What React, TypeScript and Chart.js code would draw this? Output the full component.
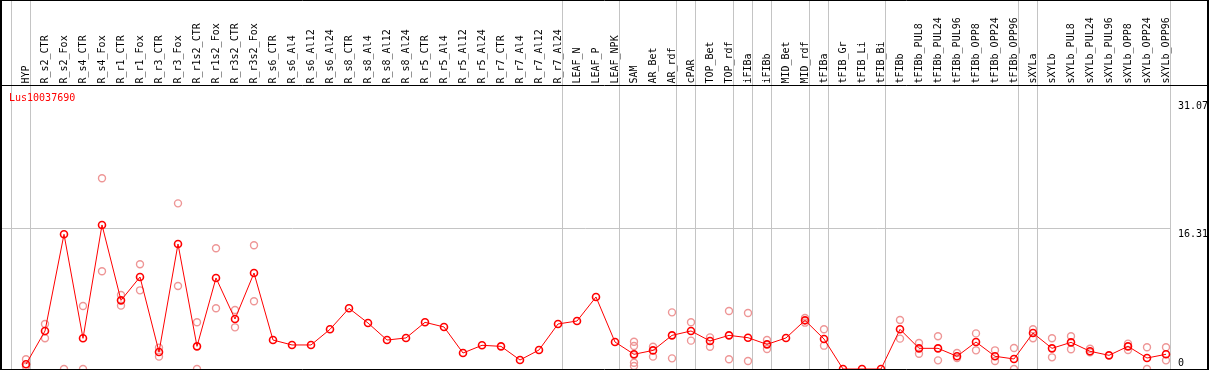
import React, { useEffect, useRef } from "react";
import { Chart, registerables } from "chart.js";

Chart.register(...registerables);

const geneLabel = "Lus10037690";

const categories = [
  "HYP", "R_s2_CTR", "R_s2_Fox", "R_s4_CTR", "R_s4_Fox", "R_r1_CTR", "R_r1_Fox",
  "R_r3_CTR", "R_r3_Fox", "R_r1s2_CTR", "R_r1s2_Fox", "R_r3s2_CTR", "R_r3s2_Fox",
  "R_s6_CTR", "R_s6_Al4", "R_s6_Al12", "R_s6_Al24", "R_s8_CTR", "R_s8_Al4",
  "R_s8_Al12", "R_s8_Al24", "R_r5_CTR", "R_r5_Al4", "R_r5_Al12", "R_r5_Al24",
  "R_r7_CTR", "R_r7_Al4", "R_r7_Al12", "R_r7_Al24", "LEAF_N", "LEAF_P", "LEAF_NPK",
  "SAM", "AR_Bet", "AR_rdf", "cPAR", "TOP_Bet", "TOP_rdf", "iFIBa", "iFIBb",
  "MID_Bet", "MID_rdf", "tFIBa", "tFIB_Gr", "tFIB_Li", "tFIB_Bi", "tFIBb",
  "tFIBb_PUL8", "tFIBb_PUL24", "tFIBb_PUL96", "tFIBb_OPP8", "tFIBb_OPP24", "tFIBb_OPP96",
  "sXYLa", "sXYLb", "sXYLb_PUL8", "sXYLb_PUL24", "sXYLb_PUL96", "sXYLb_OPP8",
  "sXYLb_OPP24", "sXYLb_OPP96",
];

const meanValues = [
  0.55, 4.4, 15.58, 3.55, 16.66, 7.94, 10.64, 1.97, 14.46, 2.62, 10.53, 5.78, 11.1,
  3.35, 2.78, 2.78, 4.59, 7.02, 5.32, 3.35, 3.59, 5.4, 4.86, 1.85, 2.74,
  2.62, 1.04, 2.2, 5.21, 5.55, 8.33, 3.12,
  1.7, 2.15, 3.89, 4.4, 3.24, 3.89, 3.62, 2.85, 3.59, 5.63, 3.47, 0, 0, 0, 4.59,
  2.39, 2.39, 1.47, 3.12, 1.47, 1.16,
  4.16, 2.39, 3.08, 2.05, 1.58, 2.62, 1.27, 1.7,
];

const replicateHigh = [
  1.12, 5.2, null, 7.29, 22.06, 8.56, 12.11, 2.47, 19.16, 5.4, 13.96, 6.82, 14.31,
  null, null, null, null, null, null, null, null, null, null, null, null,
  null, null, null, null, null, null, null,
  3.16, 2.58, 6.55, 5.4, 3.66, 6.71, 6.48, 3.35, null, 5.9, 4.59, null, null, null, 5.67,
  3.01, 3.78, 1.85, 4.12, 2.16, 2.43,
  4.59, 3.55, 3.78, 2.35, null, 2.93, 2.51, 2.51,
];

const replicateLow = [
  0.3, 3.55, 0, 0, 11.3, 7.33, 9.1, 1.43, 9.6, 0, 7.02, 4.82, 7.83,
  null, null, null, null, null, null, null, null, null, null, null, null,
  null, null, null, null, null, null, null,
  2.66, 1.43, 1.23, 3.28, 2.58, 1.12, 0.93, 2.31, null, 5.36, 2.7, null, null, null, 3.51,
  1.77, 1.0, 1.27, 2.16, 0.93, 0,
  3.55, 1.35, 2.28, 1.93, null, 2.2, 0, 1.0,
];

const extraIndex = [32, 32, 32];
const extraValues = [1.62, 0.73, 0.35];

const groupBoundaries = [0, 1, 29, 32, 35, 36, 38, 39, 40, 42, 43, 46, 53, 54, 61];
const yTickLabels = ["0", "16.31", "31.07"];
const yTickValues = [0, 16.31, 31.07];
const yGridValues = [16.31];

const Y_MAX = 32.85;
const W = 1209;
const H = 370;
const MONO = '10px "DejaVu Sans Mono", monospace';

const decorPlugin = {
  id: "decor",
  beforeDraw(chart: any) {
    const { ctx } = chart;
    ctx.save();
    ctx.fillStyle = "#ffffff";
    ctx.fillRect(0, 0, W, H);
    ctx.restore();
  },
  beforeDatasetsDraw(chart: any) {
    const { ctx } = chart;
    const x = chart.scales.x;
    const y = chart.scales.y;
    ctx.save();
    ctx.strokeStyle = "#c4c4c4";
    ctx.lineWidth = 1;
    let lastX = 0;
    groupBoundaries.forEach((k) => {
      const px = Math.round(x.getPixelForValue(k - 0.77)) + 0.5;
      lastX = px;
      ctx.beginPath();
      ctx.moveTo(px, 0);
      ctx.lineTo(px, 369);
      ctx.stroke();
    });
    yGridValues.forEach((v) => {
      const py = Math.round(y.getPixelForValue(v)) + 0.5;
      ctx.beginPath();
      ctx.moveTo(0, py);
      ctx.lineTo(lastX, py);
      ctx.stroke();
    });

    // frame
    ctx.strokeStyle = "#000000";
    ctx.lineWidth = 1;
    ctx.beginPath();
    ctx.moveTo(0, 0.5);
    ctx.lineTo(W, 0.5);
    ctx.moveTo(0, 85.5);
    ctx.lineTo(W, 85.5);
    ctx.moveTo(0, 369.5);
    ctx.lineTo(W, 369.5);
    ctx.stroke();
    ctx.lineWidth = 2;
    ctx.beginPath();
    ctx.moveTo(1, 0);
    ctx.lineTo(1, H);
    ctx.moveTo(1208, 0);
    ctx.lineTo(1208, H);
    ctx.stroke();

    // column labels
    ctx.fillStyle = "#000000";
    ctx.font = MONO;
    ctx.textAlign = "left";
    ctx.textBaseline = "alphabetic";
    categories.forEach((label, i) => {
      const px = x.getPixelForValue(i);
      ctx.save();
      ctx.translate(px + 3, 83.5);
      ctx.rotate(-Math.PI / 2);
      ctx.fillText(label, 0, 0);
      ctx.restore();
    });

    // y tick labels
    yTickValues.forEach((v, i) => {
      const py = y.getPixelForValue(v);
      const base = v === 0 ? py - 3.5 : py + 9;
      ctx.fillText(yTickLabels[i], 1178, base);
    });

    // gene label
    ctx.fillStyle = "#ff0000";
    ctx.fillText(geneLabel, 9, 100.5);
    ctx.restore();
  },
};

export default function App() {
  const canvasRef = useRef<HTMLCanvasElement | null>(null);

  useEffect(() => {
    const canvas = canvasRef.current;
    if (!canvas) return;
    const toPoints = (arr: (number | null)[]) =>
      arr
        .map((v, i) => (v === null ? null : { x: i, y: v }))
        .filter((p) => p !== null) as { x: number; y: number }[];

    const pinkPoints = [
      ...toPoints(replicateHigh),
      ...toPoints(replicateLow),
      ...extraIndex.map((i, j) => ({ x: i, y: extraValues[j] })),
    ];
    const meanPoints = meanValues.map((v, i) => ({ x: i, y: v }));

    const xMin = -25 / 19;
    const xMax = xMin + 1207 / 19;

    const chart = new Chart(canvas, {
      type: "scatter",
      data: {
        datasets: [
          {
            label: "mean",
            data: meanPoints,
            showLine: true,
            borderColor: "#ff0000",
            borderWidth: 1,
            pointRadius: 3.5,
            pointBorderWidth: 1.6,
            pointBorderColor: "#ff0000",
            pointBackgroundColor: "rgba(0,0,0,0)",
            order: 0,
          } as any,
          {
            label: "replicates",
            data: pinkPoints,
            showLine: false,
            pointRadius: 3.5,
            pointBorderWidth: 1.4,
            pointBorderColor: "rgb(238,150,150)",
            pointBackgroundColor: "rgba(0,0,0,0)",
            order: 1,
          } as any,
        ],
      },
      options: {
        animation: false,
        responsive: false,
        devicePixelRatio: 1,
        layout: { autoPadding: false, padding: { left: 1, right: 1, top: 85, bottom: 1 } },
        plugins: {
          legend: { display: false },
          tooltip: { enabled: false },
        },
        scales: {
          x: { type: "linear", display: false, min: xMin, max: xMax },
          y: { type: "linear", display: false, min: 0, max: Y_MAX },
        },
      } as any,
      plugins: [decorPlugin],
    });
    return () => chart.destroy();
  }, []);

  return (
    <div style={{ position: "fixed", left: 0, top: 0, width: W, height: H, background: "#fff" }}>
      <canvas ref={canvasRef} width={W} height={H} style={{ width: W, height: H, display: "block" }} />
    </div>
  );
}
